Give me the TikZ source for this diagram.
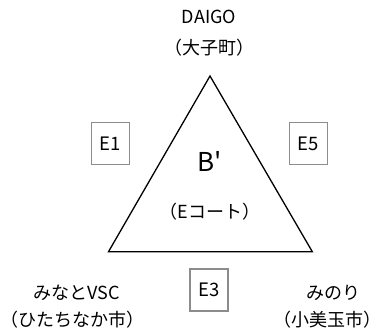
\documentclass[tikz,border=0pt]{standalone}
\usepackage{fontspec}
\setmainfont{Noto Sans CJK JP}
\newfontfamily\plainfam{Noto Sans CJK JP}
\begin{document}
\begin{tikzpicture}[x=1pt,y=-1pt,
  lbl/.style={font=\fontsize{18}{20}\selectfont, inner sep=0pt},
  ebox/.style={draw=black!45, line width=1.4pt, minimum width=38pt, minimum height=42pt, inner sep=0pt, font=\fontsize{18.5}{20}\selectfont},
  tri/.style={draw=black, line width=1.3pt}]
\useasboundingbox (0,0) rectangle (382,333);
\coordinate (top) at (210,76);
\coordinate (bl) at (108.5,251.7);
\coordinate (br) at (312.3,251.7);
\draw[tri, line join=miter] (top) -- (bl) -- (br) -- cycle;
\node[lbl] (daigo) at (209,17) {DAIGO};
\node[lbl] (daigoj) at (209,48) {（大子町）};
\node[font=\plainfam\fontsize{26}{28}\selectfont, inner sep=0pt] (b) at (210,161) {B'};
\node[lbl] (ecoat) at (210,212) {（Eコート）};
\node[ebox] (e1) at (110.3,143.7) {E1};
\node[ebox] (e5) at (308.2,143.7) {E5};
\node[ebox] (e3) at (208.8,289.8) {E3};
\node[lbl] (minato) at (77,293) {みなとVSC};
\node[lbl] (hitachi) at (72,320) {（ひたちなか市）};
\node[lbl] (minori) at (333,293) {みのり};
\node[lbl] (omitama) at (327,320) {（小美玉市）};
\end{tikzpicture}
\end{document}
